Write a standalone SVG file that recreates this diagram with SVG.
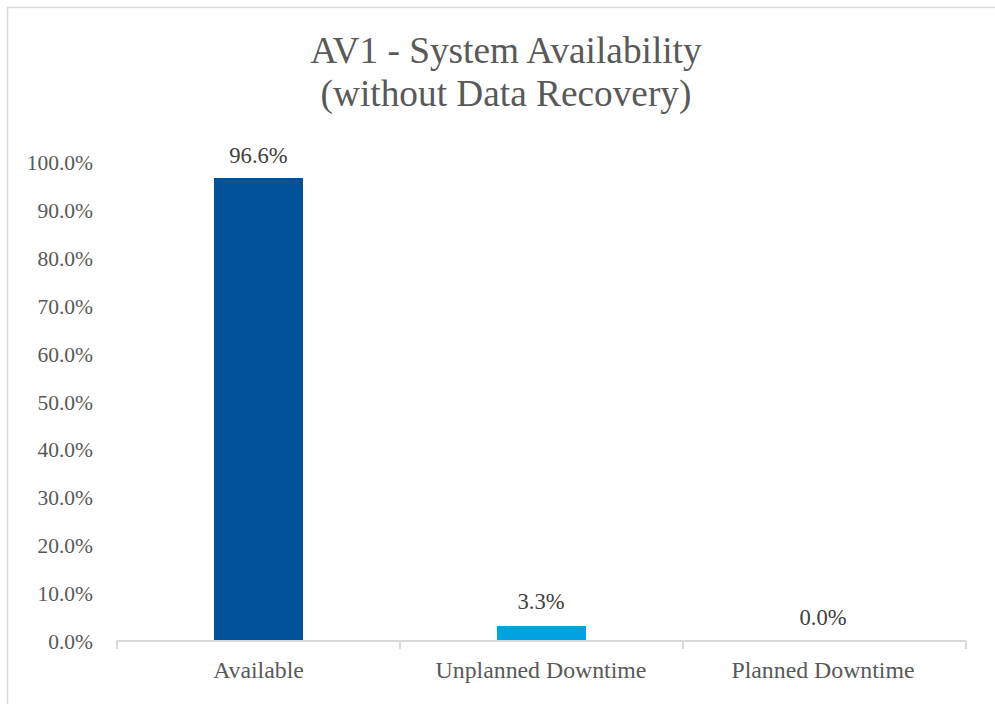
<svg xmlns="http://www.w3.org/2000/svg" width="995" height="704" viewBox="0 0 995 704">
<style>
text{font-family:"Liberation Serif","Times New Roman",serif;fill:#595959}
.title{font-size:37.3px;text-anchor:middle}
.ylab{font-size:21.5px;text-anchor:end}
.cat{font-size:23.8px;text-anchor:middle}
.dl{font-size:22.6px;text-anchor:middle;fill:#404040}
.axis{stroke:#d9d9d9;stroke-width:2;fill:none}
</style>
<rect x="0" y="0" width="995" height="704" fill="#ffffff"/>
<rect x="7.5" y="7.5" width="1000" height="720" fill="none" stroke="#d9d9d9" stroke-width="1.5"/>
<g id="title">
<text class="title" x="506" y="63">AV1 - System Availability</text>
<text class="title" x="506" y="106">(without Data Recovery)</text>
</g>
<g id="y-axis">
<text class="ylab" x="93" y="170">100.0%</text>
<text class="ylab" x="93" y="218">90.0%</text>
<text class="ylab" x="93" y="266">80.0%</text>
<text class="ylab" x="93" y="314">70.0%</text>
<text class="ylab" x="93" y="362">60.0%</text>
<text class="ylab" x="93" y="410">50.0%</text>
<text class="ylab" x="93" y="457">40.0%</text>
<text class="ylab" x="93" y="505">30.0%</text>
<text class="ylab" x="93" y="553">20.0%</text>
<text class="ylab" x="93" y="601">10.0%</text>
<text class="ylab" x="93" y="649">0.0%</text>
</g>
<g id="bars">
<rect id="bar-available" x="214" y="178" width="89" height="463" fill="#00539b"/>
<rect id="bar-unplanned" x="497" y="626" width="89" height="15" fill="#00a3e0"/>
</g>
<g id="x-axis">
<path class="axis" d="M117 641H966M117 641V649M400 641V649M683 641V649M966 641V649"/>
<text class="cat" x="258.5" y="678">Available</text>
<text class="cat" x="541" y="678">Unplanned Downtime</text>
<text class="cat" x="823" y="678">Planned Downtime</text>
</g>
<g id="data-labels">
<text class="dl" x="258.5" y="163">96.6%</text>
<text class="dl" x="541" y="609">3.3%</text>
<text class="dl" x="823" y="625">0.0%</text>
</g>
</svg>
